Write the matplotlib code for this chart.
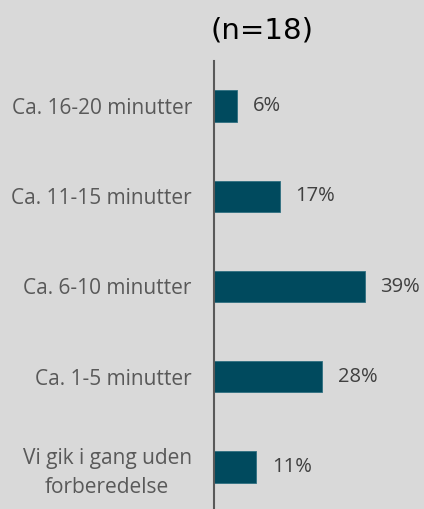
import matplotlib.pyplot as plt

# Tid brugt på forberedelse
categories = [
    "Ca. 16-20 minutter",
    "Ca. 11-15 minutter",
    "Ca. 6-10 minutter",
    "Ca. 1-5 minutter",
    "Vi gik i gang uden\nforberedelse",
]
values = [6, 17, 39, 28, 11]
title = "(n=18)"

BG = "#d9d9d9"
BAR = "#004a5e"

plt.rcParams["font.family"] = ["Open Sans", "DejaVu Sans"]

fig = plt.figure(figsize=(4.24, 5.09), dpi=100)
fig.patch.set_facecolor(BG)

ax = fig.add_axes([214 / 424, -3 / 509, 193 / 424, 451 / 509])
ax.set_facecolor(BG)

ypos = list(range(len(categories)))
ax.barh(ypos, values, height=0.35, color=BAR, edgecolor="#2f6f80", linewidth=0.6)
ax.set_ylim(len(categories) - 0.5, -0.5)
ax.set_xlim(0, 50)

for y, v in zip(ypos, values):
    ax.text(v + 4, y, f"{v}%", va="center", ha="left", fontsize=14.5, color="#404040")

ax.set_yticks(ypos)
ax.set_yticklabels(categories, fontsize=15, color="#595959", multialignment="center",
                   linespacing=1.45)
ax.tick_params(axis="y", length=0, pad=16)
ax.set_xticks([])

for side in ["top", "right", "bottom"]:
    ax.spines[side].set_visible(False)
ax.spines["left"].set_color("#595959")
ax.spines["left"].set_linewidth(1.5)

fig.text(262 / 424, 1 - 31 / 509, title, ha="center", va="center", fontsize=21,
         color="black", family="DejaVu Sans")

fig.savefig("out.png", dpi=100, facecolor=BG)
